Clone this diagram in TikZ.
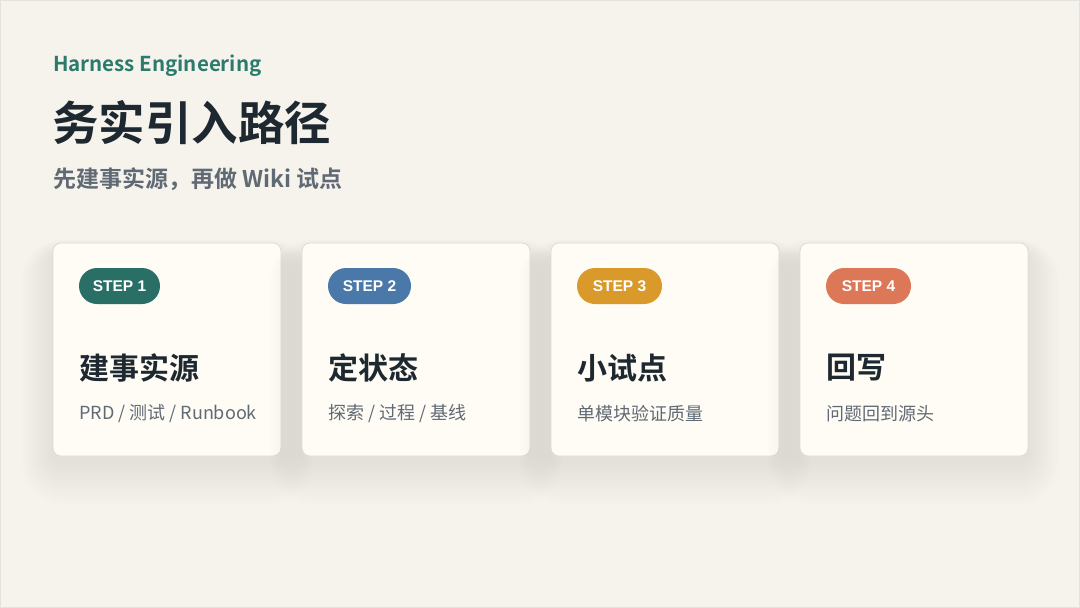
\documentclass[tikz,border=0pt]{standalone}
\usepackage{fontspec}
\setmainfont{Noto Sans CJK SC}[BoldFont={Noto Sans CJK SC Bold}]
\newfontfamily\pillfont{Liberation Sans}[BoldFont={Liberation Sans Bold}]
\definecolor{bg}{HTML}{F6F3EC}
\definecolor{cardfill}{HTML}{FEFCF5}
\definecolor{cardline}{HTML}{E0DBD0}
\definecolor{teal}{HTML}{2A6F66}
\definecolor{tealtext}{HTML}{2B7A6C}
\definecolor{stepblue}{HTML}{4A78A8}
\definecolor{stepgold}{HTML}{D99A2B}
\definecolor{steporange}{HTML}{DC7858}
\definecolor{darktext}{HTML}{1E2830}
\definecolor{graytext}{HTML}{606A75}
\definecolor{frameline}{HTML}{E4E2DC}
\tikzset{
  cardbox/.style={draw=cardline, line width=0.8pt, fill=cardfill, rounded corners=8pt},
  pillbox/.style={rounded corners=18pt, minimum width=82pt, minimum height=36pt, inner sep=0pt,
    text=white, font=\pillfont\fontsize{15.5}{15.5}\selectfont\bfseries},
  cardtitle/.style={anchor=west, inner sep=0pt, text=darktext, font=\fontsize{30}{30}\selectfont\bfseries},
  cardsub/.style={anchor=west, inner sep=0pt, text=graytext, font=\fontsize{18}{18}\selectfont},
}
\begin{document}
\begin{tikzpicture}[x=1pt,y=-1pt]
\useasboundingbox (0,0) rectangle (1080,608);
\fill[bg] (0,0) rectangle (1080,608);
\draw[frameline, line width=1pt] (0.5,0.5) rectangle (1079.5,607.5);
% header
\node[anchor=west, inner sep=0pt, text=tealtext, font=\fontsize{20.5}{20.5}\selectfont\bfseries] (kicker) at (53,66) {Harness Engineering};
\node[anchor=west, inner sep=0pt, text=darktext, font=\fontsize{46.5}{46.5}\selectfont\bfseries] (title) at (52,123) {务实引入路径};
\node[anchor=west, inner sep=0pt, text=graytext, font=\fontsize{23}{23}\selectfont\bfseries] (subtitle) at (53,179) {先建事实源，再做 Wiki 试点};
% cards
\foreach \i/\x/\col/\pw/\t/\s in {
  1/53/teal/81/建事实源/{PRD / 测试 / Runbook},
  2/302/stepblue/83/定状态/{探索 / 过程 / 基线},
  3/551/stepgold/85/小试点/{单模块验证质量},
  4/800/steporange/85/回写/{问题回到源头}} {
  \foreach \k in {1,...,18} {
    \fill[black, opacity=0.0035, rounded corners={8pt+\k*2pt}]
      (\x-\k*1.8, 243-\k*0.8+10) rectangle (\x+228+\k*1.8, 456+\k*2.4+6);
  }
  \draw[cardbox] (\x,243) rectangle (\x+228,456);
  \node[pillbox, fill=\col, minimum width=\pw pt] (pill\i) at (\x+26+\pw/2,286) {STEP \i};
  \node[cardtitle] (ct\i) at (\x+26,368) {\t};
  \node[cardsub] (cs\i) at (\x+26,414) {\s};
}
\end{tikzpicture}
\end{document}
